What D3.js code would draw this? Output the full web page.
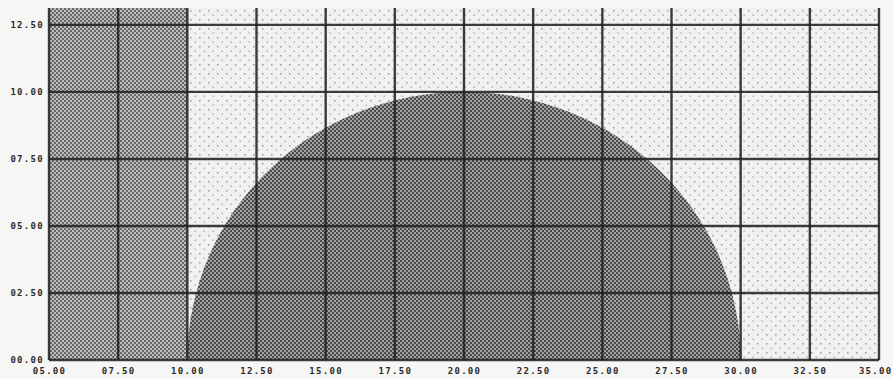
<!DOCTYPE html>
<html>
<head>
<meta charset="utf-8">
<script src="https://cdn.jsdelivr.net/npm/d3@7"></script>
<style>
  body { margin: 0; background: #f6f6f4; }
  svg { display: block; }
</style>
</head>
<body>
<svg id="chart"></svg>
<script>
// axis ticks
const xTicks = [5, 7.5, 10, 12.5, 15, 17.5, 20, 22.5, 25, 27.5, 30, 32.5, 35];
const yTicks = [0, 2.5, 5, 7.5, 10, 12.5];
const xDomain = [5, 35];
const yDomain = [0, 13.13];

// shaded regions
const bandX = [5, 10];          // dark rectangle, full height
const domeCenter = [20, 0];     // half ellipse centre
const domeRadius = [10, 10];    // x radius, y radius

const width = 893, height = 379;
const marginL = 49, marginR = 879, marginT = 8, marginB = 360;

const svg = d3.select("#chart").attr("width", width).attr("height", height);

const x = d3.scaleLinear().domain(xDomain).range([marginL, marginR]);
const y = d3.scaleLinear().domain(yDomain).range([marginB, marginT]);

const defs = svg.append("defs");

// halftone-ish textures
const bgPat = defs.append("pattern").attr("id", "bgPat")
  .attr("patternUnits", "userSpaceOnUse").attr("width", 9).attr("height", 9);
bgPat.append("rect").attr("width", 9).attr("height", 9).attr("fill", "#f1f1ef");
bgPat.append("rect").attr("x", 1).attr("y", 1).attr("width", 1.5).attr("height", 1.5).attr("fill", "#9a9a9a");
bgPat.append("rect").attr("x", 5.5).attr("y", 5.5).attr("width", 1.5).attr("height", 1.5).attr("fill", "#b4b4b4");

const bandPat = defs.append("pattern").attr("id", "bandPat")
  .attr("patternUnits", "userSpaceOnUse").attr("width", 4).attr("height", 4);
bandPat.append("rect").attr("width", 4).attr("height", 4).attr("fill", "#bdbdbb");
bandPat.append("rect").attr("x", 0).attr("y", 0).attr("width", 2).attr("height", 2).attr("fill", "#686868");
bandPat.append("rect").attr("x", 2).attr("y", 2).attr("width", 2).attr("height", 2).attr("fill", "#686868");

const domePat = defs.append("pattern").attr("id", "domePat")
  .attr("patternUnits", "userSpaceOnUse").attr("width", 4).attr("height", 4);
domePat.append("rect").attr("width", 4).attr("height", 4).attr("fill", "#a2a2a0");
domePat.append("rect").attr("x", 0).attr("y", 0).attr("width", 2).attr("height", 2).attr("fill", "#4a4a4a");
domePat.append("rect").attr("x", 2).attr("y", 2).attr("width", 2).attr("height", 2).attr("fill", "#4a4a4a");

defs.append("clipPath").attr("id", "plotClip")
  .append("rect")
  .attr("x", x(xDomain[0])).attr("y", y(yDomain[1]))
  .attr("width", x(xDomain[1]) - x(xDomain[0]))
  .attr("height", y(yDomain[0]) - y(yDomain[1]));

const plot = svg.append("g").attr("clip-path", "url(#plotClip)");

// background
plot.append("rect")
  .attr("x", x(xDomain[0])).attr("y", y(yDomain[1]))
  .attr("width", x(xDomain[1]) - x(xDomain[0]))
  .attr("height", y(yDomain[0]) - y(yDomain[1]))
  .attr("fill", "url(#bgPat)");

// dark band
plot.append("rect")
  .attr("x", x(bandX[0])).attr("y", y(yDomain[1]))
  .attr("width", x(bandX[1]) - x(bandX[0]))
  .attr("height", y(yDomain[0]) - y(yDomain[1]))
  .attr("fill", "url(#bandPat)");

// half ellipse
plot.append("ellipse")
  .attr("cx", x(domeCenter[0])).attr("cy", y(domeCenter[1]))
  .attr("rx", x(domeCenter[0] + domeRadius[0]) - x(domeCenter[0]))
  .attr("ry", y(domeCenter[1]) - y(domeCenter[1] + domeRadius[1]))
  .attr("fill", "url(#domePat)");

// grid
const grid = svg.append("g").attr("stroke", "#222").attr("stroke-width", 2.4).attr("stroke-opacity", 0.88);
grid.selectAll("line.v").data(xTicks).join("line")
  .attr("class", "v")
  .attr("x1", d => x(d)).attr("x2", d => x(d))
  .attr("y1", y(yDomain[1])).attr("y2", y(0));
grid.selectAll("line.h").data(yTicks).join("line")
  .attr("class", "h")
  .attr("x1", x(xDomain[0])).attr("x2", x(xDomain[1]))
  .attr("y1", d => y(d)).attr("y2", d => y(d));

// tick labels
const fmt = d => (d < 10 ? "0" : "") + d.toFixed(2);

const xAxis = svg.append("g")
  .attr("transform", `translate(0,${y(0)})`)
  .call(d3.axisBottom(x).tickValues(xTicks).tickFormat(fmt).tickSize(0).tickPadding(8));
const yAxis = svg.append("g")
  .attr("transform", `translate(${x(xDomain[0])},0)`)
  .call(d3.axisLeft(y).tickValues(yTicks).tickFormat(fmt).tickSize(0).tickPadding(5));

[xAxis, yAxis].forEach(a => {
  a.select(".domain").remove();
  a.selectAll("text")
    .attr("fill", "#2a2a2a")
    .style("font-family", "'DejaVu Sans Mono', monospace")
    .style("font-weight", "bold")
    .style("font-size", "9px")
    .style("letter-spacing", "1.3px");
});

// keep the last x label inside the page
xAxis.selectAll(".tick").filter(d => d === xDomain[1]).select("text")
  .attr("text-anchor", "end").attr("dx", width - x(xDomain[1]) - 1);
</script>
</body>
</html>
